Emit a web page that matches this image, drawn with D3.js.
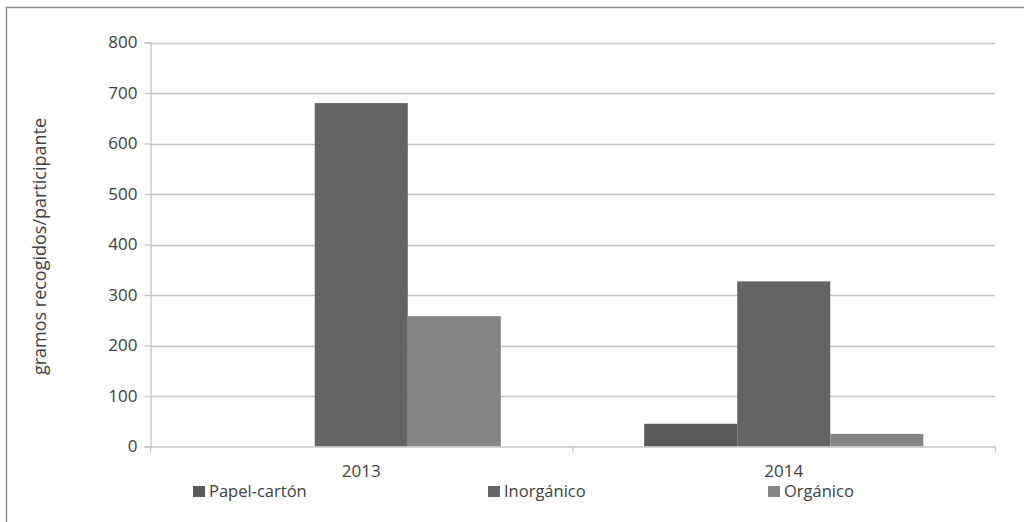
<!DOCTYPE html>
<html>
<head>
<meta charset="utf-8">
<script src="https://cdn.jsdelivr.net/npm/d3@7"></script>
<style>
  html, body { margin: 0; padding: 0; background: #fff; }
  svg { display: block; }
  text { font-family: "Open Sans", "Noto Sans", sans-serif; fill: #404040; }
</style>
</head>
<body>
<svg id="chart" width="1024" height="522"></svg>
<script>
const categories = ["2013", "2014"];
const seriesNames = ["Papel-cartón", "Inorgánico", "Orgánico"];
const papelCarton = [0, 45];
const inorganico = [680, 327];
const organico = [258, 25];
const yTicks = [0, 100, 200, 300, 400, 500, 600, 700, 800];
const colors = ["#5b5b5b", "#646464", "#858585"];

const seriesValues = [papelCarton, inorganico, organico];

const svg = d3.select("#chart");
const x0 = 150, x1 = 995, yTop = 42.5, yBot = 446.5;

// outer frame
svg.append("rect")
  .attr("x", 6.5).attr("y", 7.5)
  .attr("width", 1030).attr("height", 530)
  .attr("fill", "none").attr("stroke", "#8c8c8c").attr("stroke-width", 1.5);

const x = d3.scaleBand().domain(categories).range([x0, x1]).paddingInner(0).paddingOuter(0);
const inner = d3.scaleBand().domain(seriesNames)
  .range([0, x.bandwidth()]).paddingInner(0).paddingOuter(0.77);
const y = d3.scaleLinear().domain([0, 800]).range([yBot, yTop]);

// gridlines
svg.append("g").selectAll("line").data(yTicks.filter(d => d > 0)).join("line")
  .attr("x1", x0).attr("x2", x1)
  .attr("y1", d => Math.round(y(d)) + 0.5).attr("y2", d => Math.round(y(d)) + 0.5)
  .attr("stroke", "#c4c4c4").attr("stroke-width", 1.3);

// bars
const groups = svg.append("g").selectAll("g").data(categories).join("g")
  .attr("transform", d => `translate(${x(d)},0)`);
groups.selectAll("rect")
  .data((c, ci) => seriesNames.map((s, si) => ({ s, si, v: seriesValues[si][ci] })))
  .join("rect")
  .attr("x", d => inner(d.s))
  .attr("width", inner.bandwidth())
  .attr("y", d => y(d.v))
  .attr("height", d => y(0) - y(d.v))
  .attr("fill", d => colors[d.si]);

// y axis
const yAxis = d3.axisLeft(y).tickValues(yTicks).tickSize(6).tickPadding(7).tickFormat(d3.format("d"));
const gy = svg.append("g").attr("transform", `translate(${x0 + 0.5},0)`).call(yAxis);
gy.select(".domain").attr("stroke", "#c4c4c4").attr("stroke-width", 1.3);
gy.selectAll(".tick line").attr("stroke", "#c4c4c4").attr("stroke-width", 1.3);
gy.selectAll(".tick text").style("font-size", "17px").attr("fill", "#404040");

// x axis
const xAxis = d3.axisBottom(x).tickSize(0).tickPadding(18);
const gx = svg.append("g").attr("transform", `translate(0,${yBot})`).call(xAxis);
gx.select(".domain").attr("stroke", "#c4c4c4").attr("stroke-width", 1.3);
gx.selectAll(".tick text").style("font-size", "17px").attr("fill", "#404040");
// category separator ticks
const sepPositions = [x0, ...categories.map(c => x(c) + x.bandwidth())];
svg.append("g").selectAll("line").data(sepPositions).join("line")
  .attr("x1", d => d + 0.5).attr("x2", d => d + 0.5)
  .attr("y1", yBot).attr("y2", yBot + 6)
  .attr("stroke", "#c4c4c4").attr("stroke-width", 1.3);

// y title
svg.append("text")
  .attr("transform", `translate(46,${(yTop + yBot) / 2 + 2}) rotate(-90)`)
  .attr("text-anchor", "middle")
  .style("font-size", "18px")
  .text("gramos recogidos/participante");

// legend
const legendX = [193, 488, 768];
const leg = svg.append("g").selectAll("g").data(seriesNames).join("g")
  .attr("transform", (d, i) => `translate(${legendX[i]},485)`);
leg.append("rect").attr("x", 0).attr("y", 1).attr("width", 12).attr("height", 11)
  .attr("fill", (d, i) => colors[i]);
leg.append("text").attr("x", 16).attr("y", 12)
  .style("font-size", "16.5px").text(d => d);
</script>
</body>
</html>
